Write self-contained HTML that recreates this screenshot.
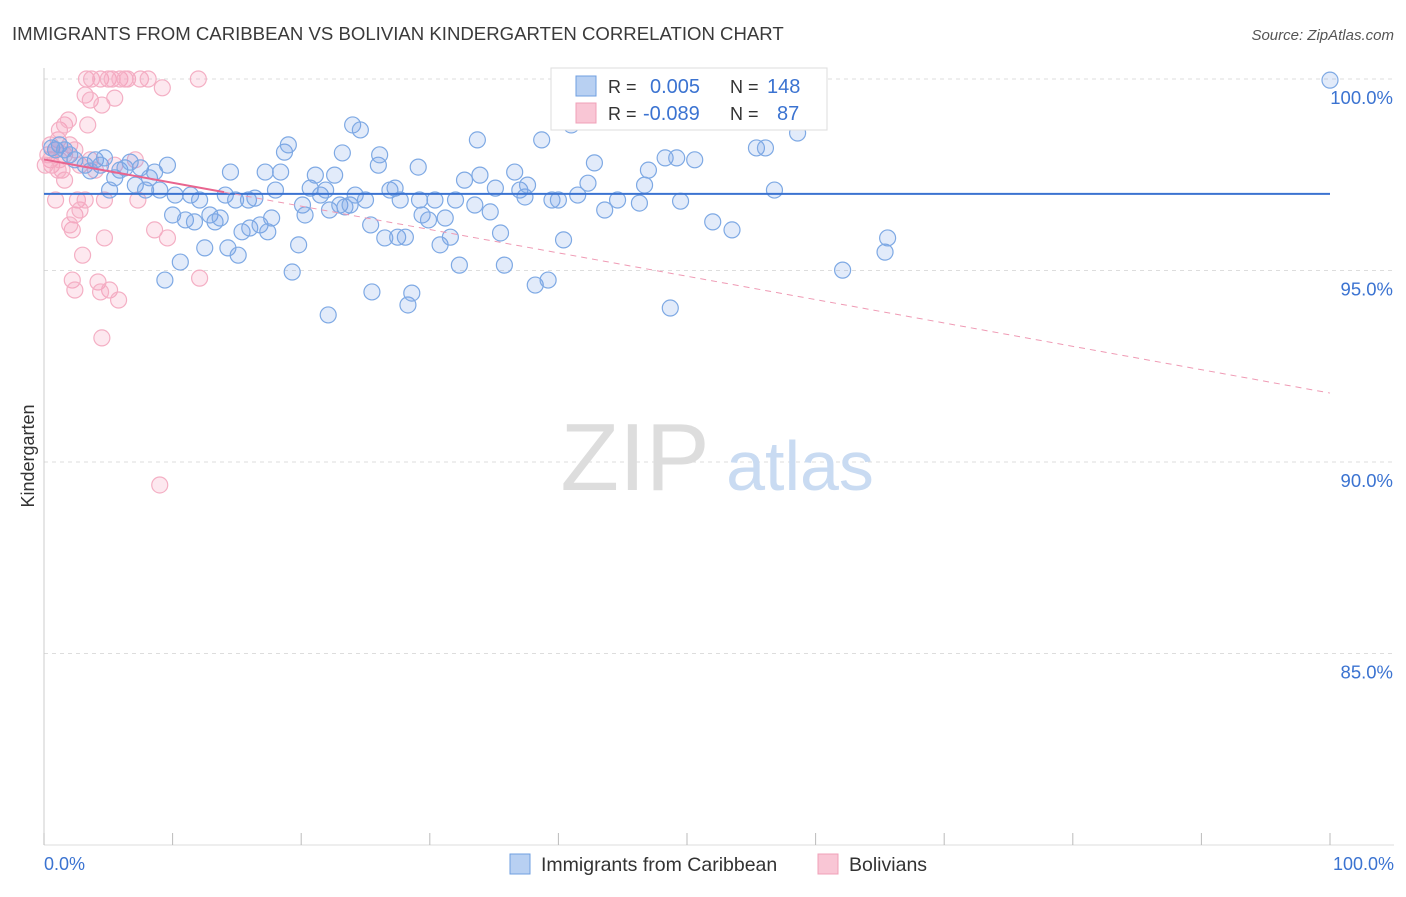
<!DOCTYPE html>
<html><head><meta charset="utf-8"><style>
body{margin:0;background:#fff;font-family:"Liberation Sans",sans-serif;}
svg text{font-family:"Liberation Sans",sans-serif;}
</style></head><body>
<svg id="chart" width="1406" height="892" viewBox="0 0 1406 892" xmlns="http://www.w3.org/2000/svg">
<text x="12" y="40" font-size="18.6" fill="#3a3a3a">IMMIGRANTS FROM CARIBBEAN VS BOLIVIAN KINDERGARTEN CORRELATION CHART</text>
<text x="1394" y="40" font-size="15" fill="#555" font-style="italic" text-anchor="end">Source: ZipAtlas.com</text>
<g id="grid"></g>
<g id="yticks"></g>
<g id="xaxis"></g>
<text x="34" y="456" font-size="18" fill="#333" text-anchor="middle" transform="rotate(-90 34 456)">Kindergarten</text>
<g>
<text x="635" y="490" font-size="96" fill="#ddd" font-family="Liberation Serif" text-anchor="middle">ZIP</text>
<text x="800" y="490" font-size="70" fill="#c9dbf2" text-anchor="middle">atlas</text>
</g>
<g id="pinkPts"></g>
<g id="bluePts"></g>
<g id="trends"></g>
<g>
<rect x="551" y="68" width="276" height="62" fill="#fff" stroke="#ddd"/>
<rect x="576" y="76" width="20" height="20" fill="#b8d0f2" stroke="#6f9fe0"/>
<rect x="576" y="103" width="20" height="20" fill="#f9c6d5" stroke="#f0a0b8"/>
<text x="608" y="93" font-size="18" fill="#333">R = </text><text x="650" y="93" font-size="20" fill="#3b73d1">0.005</text>
<text x="730" y="93" font-size="18" fill="#333">N = </text><text x="767" y="93" font-size="20" fill="#3b73d1">148</text>
<text x="608" y="120" font-size="18" fill="#333">R = </text><text x="643" y="120" font-size="20" fill="#3b73d1">-0.089</text>
<text x="730" y="120" font-size="18" fill="#333">N = </text><text x="777" y="120" font-size="20" fill="#3b73d1">87</text>
</g>
<g>
<rect x="510" y="854" width="20" height="20" fill="#b8d0f2" stroke="#6f9fe0"/>
<text x="541" y="871" font-size="19.5" fill="#333">Immigrants from Caribbean</text>
<rect x="818" y="854" width="20" height="20" fill="#f9c6d5" stroke="#f0a0b8"/>
<text x="849" y="871" font-size="19.5" fill="#333">Bolivians</text>
</g>
</svg>
<script>
const yTicks=[100,95,90,85];
const yTickLabels=["100.0%","95.0%","90.0%","85.0%"];
const xTickCount=10;
const xLabels=["0.0%","100.0%"];
const blueX=[0.9,1.2,2.0,2.4,3.2,4.0,4.4,4.7,5.5,5.9,6.3,6.7,7.1,7.5,7.9,8.2,8.6,9.0,9.6,10.0,10.2,10.6,11.0,11.4,11.7,12.1,12.5,12.9,13.3,13.7,14.1,14.3,14.5,14.9,15.1,15.4,15.9,16.0,16.4,16.8,17.2,17.4,17.7,18.0,18.4,18.7,19.0,19.3,19.8,20.1,20.3,20.7,21.1,21.5,21.9,22.1,22.2,22.6,23.0,23.2,23.4,23.8,24.0,24.2,24.6,25.0,25.4,25.5,26.0,26.1,26.5,26.9,27.3,27.5,27.7,28.1,28.3,28.6,29.1,29.2,29.4,29.9,30.4,30.8,31.2,31.6,32.0,32.3,32.7,33.5,33.7,33.9,34.7,35.1,35.5,35.8,36.6,37.0,37.4,37.6,38.2,38.7,39.2,39.5,40.0,40.4,41.5,42.3,42.8,43.6,44.6,46.3,46.7,47.0,48.3,48.7,49.2,49.5,50.6,52.0,53.5,54.5,41.0,55.4,56.1,56.8,58.6,62.1,65.4,65.6,100,0.6,1.6,3.6,5.1,9.4,45.2];
const blueY=[98.15,98.28,98.02,97.89,97.75,97.89,97.75,97.94,97.42,97.62,97.68,97.83,97.23,97.68,97.10,97.42,97.57,97.10,97.75,96.45,96.97,95.22,96.32,96.97,96.27,96.84,95.59,96.45,96.27,96.37,96.97,95.59,97.57,96.84,95.40,96.01,96.84,96.11,96.89,96.19,97.57,96.01,96.37,97.10,97.57,98.09,98.28,94.96,95.67,96.71,96.45,97.15,97.49,96.97,97.10,93.84,96.58,97.49,96.71,98.07,96.66,96.71,98.80,96.97,98.67,96.84,96.19,94.44,97.75,98.02,95.85,97.10,97.15,95.87,96.84,95.87,94.10,94.41,97.70,96.84,96.45,96.32,96.84,95.67,96.37,95.87,96.84,95.14,97.36,96.71,98.41,97.49,96.53,97.15,95.98,95.14,97.57,97.10,96.92,97.23,94.62,98.41,94.75,96.84,96.84,95.80,96.97,97.28,97.81,96.58,96.84,96.76,97.23,97.62,97.94,94.02,97.94,96.81,97.89,96.27,96.06,99.97,98.80,98.20,98.20,97.10,98.59,95.01,95.48,95.85,99.97,98.2,98.15,97.6,97.1,94.75,99.14];
const pinkX=[0.5,0.6,0.9,1.1,1.2,1.4,1.6,1.9,2.0,2.2,2.4,2.6,2.8,3.0,3.2,3.3,3.4,3.6,3.7,4.0,4.2,4.4,4.5,4.7,5.0,5.1,5.3,5.5,5.5,5.8,5.9,6.3,6.5,7.1,7.3,7.5,8.1,8.6,9.0,9.2,9.6,12.0,12.1,4.5,2.2,2.4,4.4,0.9,1.6,0.3,0.5,1.2,1.6,2.8,2.0,0.1,1.1,2.4,3.6,4.7,3.2];
const pinkY=[97.89,97.75,98.15,98.41,98.67,97.62,98.80,98.93,98.28,96.06,96.45,96.84,96.58,95.40,99.58,100,98.80,99.45,100,97.62,94.70,100,99.32,95.85,100,94.49,100,99.50,97.75,94.23,100,100,100,97.89,96.84,100,100,96.06,89.40,99.77,95.85,100,94.80,93.24,94.75,94.49,94.44,96.84,97.36,98.02,98.28,97.89,98.02,97.75,96.19,97.75,97.62,98.15,97.89,96.84,96.84];
const blueTrend=[97.0,97.0];
const pinkTrend=[97.9,91.8];

const NS="http://www.w3.org/2000/svg";
const X0=44,X1=1330;
const xs=v=>X0+(X1-X0)*v/100;
const ys=v=>79+(100-v)*38.3;
function mk(tag,attrs,parent){const e=document.createElementNS(NS,tag);for(const k in attrs)e.setAttribute(k,attrs[k]);parent.appendChild(e);return e;}
const grid=document.getElementById('grid'),yt=document.getElementById('yticks'),xa=document.getElementById('xaxis');
yTicks.forEach((v,i)=>{
 const l=mk('line',{x1:X0,x2:1394,y1:ys(v),y2:ys(v),stroke:'#ddd','stroke-dasharray':'4,4'},grid);
 
 
 const t=mk('text',{x:1393,y:ys(v)+25,'font-size':18.5,fill:'#3b73d1','text-anchor':'end'},yt);
 t.textContent=yTickLabels[i];
 
 
});
const ax=mk('line',{x1:X0,x2:X0,y1:68,y2:845,stroke:'#ccc'},xa);


const bx=mk('line',{x1:X0,x2:1394,y1:845,y2:845,stroke:'#ddd'},xa);


for(let i=0;i<=xTickCount;i++){
 const tk=mk('line',{x1:xs(i*100/xTickCount),x2:xs(i*100/xTickCount),y1:833,y2:845,stroke:'#bbb'},xa);
 
 
}
const xl0=mk('text',{x:X0,y:870,'font-size':18,fill:'#3b73d1'},xa);xl0.textContent=xLabels[0];


const xl1=mk('text',{x:1394,y:870,'font-size':18,fill:'#3b73d1','text-anchor':'end'},xa);xl1.textContent=xLabels[1];


const pg=document.getElementById('pinkPts');
pinkX.forEach((x,i)=>{
 const c=mk('circle',{cx:xs(x),cy:ys(pinkY[i]),r:8,fill:'rgba(245,150,180,0.22)',stroke:'#f4afc4','stroke-width':1.2},pg);
 
 
});
const bg=document.getElementById('bluePts');
blueX.forEach((x,i)=>{
 const c=mk('circle',{cx:xs(x),cy:ys(blueY[i]),r:8,fill:'rgba(110,155,230,0.2)',stroke:'#7ea9e4','stroke-width':1.2},bg);
 
 
});
const tg=document.getElementById('trends');
const bt=mk('line',{x1:xs(0),x2:xs(100),y1:ys(blueTrend[0]),y2:ys(blueTrend[1]),stroke:'#3b73d1','stroke-width':2},tg);


const pyAt=x=>pinkTrend[0]+(pinkTrend[1]-pinkTrend[0])*x/100;
const ps=mk('line',{x1:xs(0),x2:xs(14),y1:ys(pyAt(0)),y2:ys(pyAt(14)),stroke:'#e8658f','stroke-width':2},tg);


const pd=mk('line',{x1:xs(14),x2:xs(100),y1:ys(pyAt(14)),y2:ys(pyAt(100)),stroke:'#ef9ab4','stroke-width':1,'stroke-dasharray':'6,5'},tg);


</script>
</body></html>
